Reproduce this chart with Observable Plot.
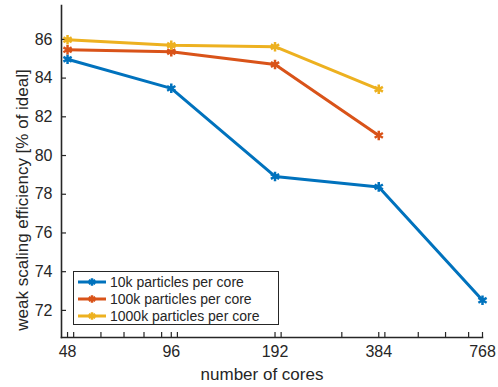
<!DOCTYPE html>
<html><head><meta charset="utf-8">
<script src="https://cdn.jsdelivr.net/npm/d3@7"></script>
<script src="https://cdn.jsdelivr.net/npm/@observablehq/plot@0.6"></script>
<style>
body{margin:0;background:#fff}
#wrap{position:relative;width:498px;height:387px;font-family:"Liberation Sans",Arial,sans-serif}
#legend{position:absolute;left:73px;top:271px;width:204px;height:51px;border:1.6px solid #262626;background:#fff;padding-top:1px}
.row{display:flex;align-items:center;height:17px;font-size:14px;color:#262626;white-space:nowrap}
.row svg{margin-left:3px;margin-right:3px}
</style>
</head><body><div id="wrap"></div>
<script>
const cores = [48, 96, 192, 384, 768];
const eff10k = [84.97, 83.47, 78.92, 78.38, 72.52];
const eff100k = [85.46, 85.36, 84.70, 81.04];
const eff1000k = [85.98, 85.70, 85.62, 83.42];
const seriesNames = ["10k particles per core", "100k particles per core", "1000k particles per core"];
const colors = ["#0072BD", "#D95319", "#EDB120"];
const yTicks = [72, 74, 76, 78, 80, 82, 84, 86];
const xMinor = [50, 60, 70, 80, 90, 100, 200, 300, 400, 500, 600, 700];
const xLabel = ["number of cores"];
const yLabel = ["weak scaling efficiency [% of ideal]"];

const seriesVals = [eff10k, eff100k, eff1000k];
const data = [];
seriesVals.forEach((vals, s) => vals.forEach((v, i) => data.push({series: seriesNames[s], cores: cores[i], eff: v})));

const seriesMarks = [];
seriesNames.forEach(name => {
  const d = data.filter(r => r.series === name);
  seriesMarks.push(Plot.line(d, {x: "cores", y: "eff", stroke: "series", strokeWidth: 3}));
  seriesMarks.push(Plot.dot(d, {x: "cores", y: "eff", stroke: "series", symbol: "asterisk", r: 4.5, strokeWidth: 2.5}));
});

const plot = Plot.plot({
  width: 498, height: 387,
  marginLeft: 61, marginRight: 16, marginTop: 5, marginBottom: 50,
  style: {fontFamily: "Liberation Sans, Arial, sans-serif", color: "#262626", background: "#fff", overflow: "visible"},
  x: {type: "log", base: 2, domain: [46.1, 768]},
  y: {domain: [70.6, 87.75]},
  color: {domain: seriesNames, range: colors},
  marks: [
    Plot.axisX({ticks: cores, tickSize: 0, tickPadding: 8, fontSize: 16, tickFormat: d => String(d), label: null}),
    Plot.axisX({ticks: [...cores, ...xMinor], tickSize: -5, text: null, label: null, strokeWidth: 1.2}),
    Plot.axisY({ticks: yTicks, tickSize: 0, tickPadding: 9, fontSize: 16, label: null}),
    Plot.axisY({ticks: yTicks, tickSize: -5, text: null, label: null, strokeWidth: 1.2}),
    Plot.frame({anchor: "left", strokeWidth: 1.6}),
    Plot.frame({anchor: "bottom", strokeWidth: 1.6}),
    Plot.text(xLabel, {text: d => d, frameAnchor: "bottom", textAnchor: "middle", dx: -10, dy: 37, fontSize: 17, lineAnchor: "middle", fill: "#262626"}),
    Plot.text(yLabel, {text: d => d, frameAnchor: "left", textAnchor: "middle", rotate: -90, dx: -39, dy: 28.5, fontSize: 17, lineAnchor: "middle", fill: "#262626"}),
    ...seriesMarks
  ]
});

const wrap = document.getElementById("wrap");
wrap.appendChild(plot);

const legend = d3.select(wrap).append("div").attr("id", "legend");
seriesNames.forEach((name, i) => {
  const row = legend.append("div").attr("class", "row");
  const svg = row.append("svg").attr("width", 30).attr("height", 12);
  svg.append("line").attr("x1", 1).attr("x2", 29).attr("y1", 6).attr("y2", 6)
    .attr("stroke", colors[i]).attr("stroke-width", 3);
  svg.append("path").attr("d", d3.symbol(d3.symbolAsterisk, 40)())
    .attr("transform", "translate(15,6)").attr("fill", "none")
    .attr("stroke", colors[i]).attr("stroke-width", 2.5);
  row.append("span").text(name);
});
</script>
</body></html>
